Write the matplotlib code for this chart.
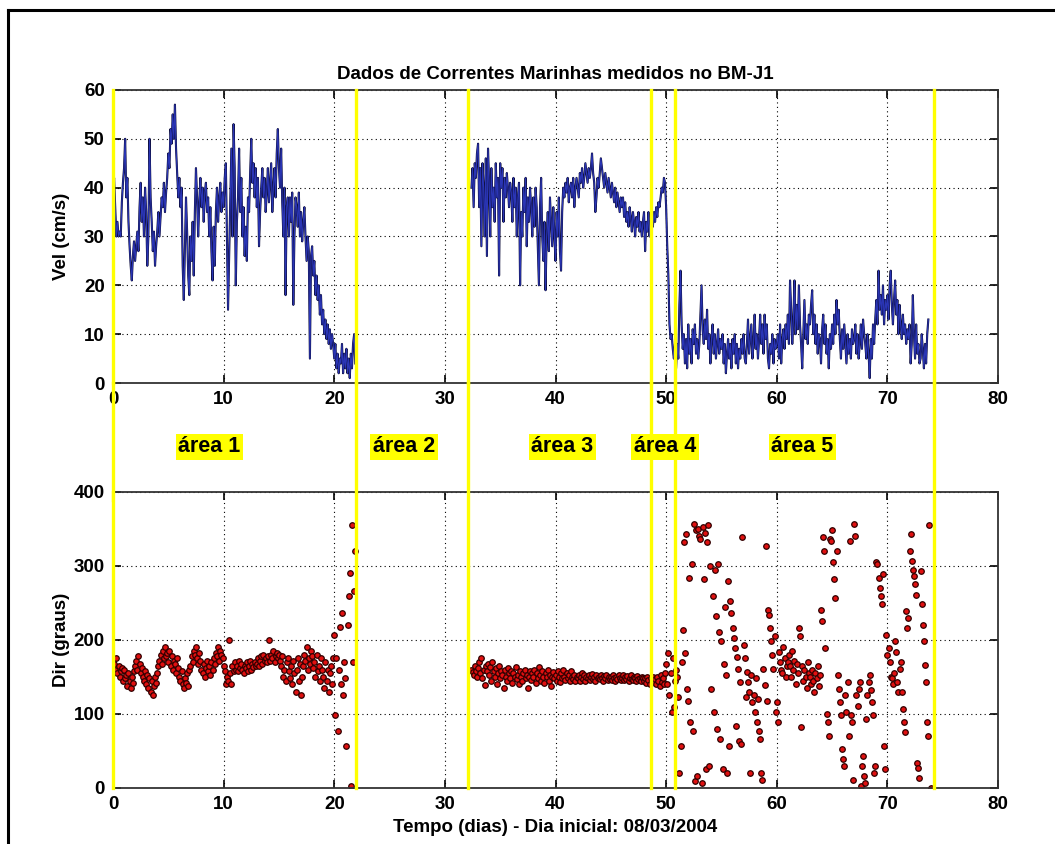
import matplotlib
matplotlib.use('Agg')
import matplotlib.pyplot as plt
import matplotlib.transforms as mtransforms
from matplotlib.lines import Line2D
import numpy as np

# sampling: one value every 0.1 day
step = 0.1

# velocity (cm/s), area 1, from day 0.0
t0_vel1 = 0.0
vel_area1 = [
    38, 42, 36, 30, 33, 30, 31, 30, 37, 41,
    44, 50, 38, 42, 33, 28, 24, 21, 26, 29,
    25, 28, 31, 27, 36, 41, 33, 38, 30, 40,
    35, 24, 30, 50, 38, 33, 27, 31, 24, 28,
    31, 35, 30, 34, 38, 36, 41, 35, 39, 42,
    47, 44, 52, 49, 55, 50, 57, 48, 43, 38,
    42, 36, 40, 24, 17, 28, 38, 31, 22, 18,
    30, 25, 33, 22, 35, 44, 38, 30, 37, 42,
    36, 40, 33, 39, 41, 35, 38, 30, 36, 27,
    21, 32, 24, 35, 40, 33, 38, 41, 35, 39,
    36, 42, 45, 30, 15, 26, 38, 48, 30, 53,
    44, 20, 33, 38, 48, 35, 42, 30, 36, 26,
    32, 25, 38, 35, 43, 50, 41, 45, 38, 44,
    36, 42, 28, 35, 40, 44, 38, 42, 35, 39,
    44, 37, 41, 45, 35, 40, 44, 38, 47, 52,
    44, 40, 48, 37, 30, 40, 18, 36, 38, 30,
    38, 33, 39, 16, 30, 38, 36, 32, 39, 30,
    35, 29, 33, 36, 30, 25, 30, 27, 5, 26,
    28, 22, 25, 18, 22, 17, 20, 14, 18, 12,
    15, 10, 13, 9, 12, 8, 11, 7, 10, 8,
    5, 8, 3, 6, 2, 5, 4, 8, 2, 6,
    3, 7, 2, 5, 1, 6, 3, 8, 10, 4,
]

# velocity (cm/s), areas 3-5, from day 32.4
t0_vel2 = 32.4
vel_area345 = [
    40, 44, 36, 45, 42, 47,
    49, 36, 44, 28, 45, 40, 30, 46, 26, 48,
    41, 30, 44, 36, 40, 33, 45, 38, 42, 22,
    45, 40, 44, 33, 42, 38, 43, 40, 36, 41,
    39, 33, 42, 36, 40, 30, 38, 41, 20, 35,
    30, 40, 35, 42, 28, 38, 33, 40, 36, 30,
    38, 32, 40, 36, 28, 20, 36, 42, 30, 25,
    33, 19, 30, 35, 27, 38, 33, 28, 36, 30,
    25, 35, 30, 38, 27, 23, 35, 40, 38, 41,
    39, 42, 37, 40, 41, 38, 42, 36, 40, 42,
    40, 38, 43, 41, 44, 40, 42, 45, 43, 41,
    44, 42, 44, 47, 43, 41, 35, 38, 42, 40,
    43, 46, 44, 42, 40, 43, 41, 39, 42, 40,
    38, 41, 39, 37, 40, 36, 39, 37, 35, 38,
    36, 38, 34, 37, 33, 35, 32, 36, 34, 31,
    35, 33, 30, 34, 32, 35, 31, 33, 30, 33,
    35, 27, 33, 31, 35, 30, 33, 34, 32, 35,
    33, 36, 34, 37, 36, 38, 40, 39, 42, 41,
    36, 28, 22, 12, 9, 10, 7, 5, 8, 3,
    8, 5, 16, 23, 12, 7, 10, 4, 9, 3,
    12, 6, 9, 4, 11, 8, 12, 6, 9, 5,
    8, 14, 20, 11, 8, 13, 9, 15, 7, 10,
    4, 9, 12, 6, 10, 5, 8, 11, 6, 9,
    7, 10, 4, 8, 2, 6, 9, 5, 8, 3,
    9, 6, 10, 4, 8, 3, 7, 5, 9, 6,
    10, 5, 4, 8, 13, 6, 9, 12, 5, 8,
    14, 7, 10, 5, 9, 14, 8, 12, 6, 14,
    9, 12, 5, 3, 8, 6, 10, 4, 9, 7,
    8, 10, 5, 12, 4, 9, 11, 7, 12, 9,
    14, 8, 21, 15, 8, 13, 21, 10, 16, 11,
    20, 12, 8, 3, 10, 17, 9, 12, 8, 14,
    12, 16, 19, 10, 14, 8, 12, 6, 10, 9,
    4, 11, 14, 8, 12, 6, 9, 3, 10, 7,
    12, 8, 14, 10, 17, 12, 15, 9, 5, 11,
    7, 12, 8, 4, 10, 6, 9, 5, 11, 8,
    9, 12, 6, 10, 5, 8, 12, 7, 13, 10,
    8, 5, 10, 6, 1, 9, 5, 12, 8, 13,
    17, 12, 23, 15, 18, 14, 20, 12, 17, 15,
    18, 13, 20, 23, 16, 12, 17, 21, 14, 17,
    10, 16, 12, 9, 14, 10, 12, 8, 11, 9,
    12, 4, 8, 18, 10, 5, 12, 6, 8, 4,
    5, 10, 7, 3, 8, 4, 10, 13,
]

# direction (graus), area 1, from day 0.0
t0_dir1 = 0.0
dir_area1 = [
    172, 168, 160, 175, 155, 165, 150, 158, 162, 145,
    160, 148, 152, 138, 155, 145, 135, 150, 142, 158,
    165, 172, 160, 178, 168, 155, 162, 150, 145, 158,
    140, 152, 135, 148, 130, 145, 125, 138, 150, 142,
    155, 165, 172, 180, 168, 185, 175, 190, 178, 182,
    170, 185, 165, 178, 160, 172, 168, 155, 175, 162,
    150, 145, 158, 140, 135, 148, 142, 155, 138, 160,
    165, 178, 170, 185, 180, 190, 175, 168, 182, 172,
    160, 155, 168, 150, 162, 172, 158, 165, 152, 170,
    160, 175, 168, 182, 178, 190, 172, 185, 180, 175,
    165, 158, 140, 150, 145, 200, 155, 140, 165, 158,
    170, 160, 165, 158, 172, 162, 168, 160, 155, 165,
    162, 170, 158, 165, 172, 160, 168, 163, 170, 165,
    168, 175, 165, 172, 178, 168, 180, 172, 175, 170,
    178, 200, 172, 180, 175, 185, 170, 178, 182, 175,
    180, 172, 165, 178, 150, 160, 145, 170, 175, 158,
    148, 165, 140, 172, 155, 130, 160, 175, 145, 168,
    125, 150, 165, 180, 172, 190, 160, 175, 168, 185,
    178, 162, 170, 150, 180, 158, 165, 145, 175, 160,
    150, 135, 170, 145, 160, 130, 155, 165, 140, 175,
    207, 98, 175, 77, 160, 218, 140, 236, 125, 170,
    148, 57, 220, 259, 291, 2, 355, 170, 266, 320,
]

# direction (graus), areas 3-5, from day 32.4
t0_dir2 = 32.4
dir_area345 = [
    160, 157, 152, 165, 158, 150,
    162, 170, 155, 175, 148, 160, 139, 165, 158, 168,
    152, 163, 145, 170, 158, 150, 162, 140, 155, 165,
    148, 158, 152, 135, 160, 150, 145, 162, 155, 148,
    158, 142, 155, 150, 163, 147, 152, 140, 158, 150,
    145, 155, 160, 148, 153, 135, 150, 158, 146, 155,
    150, 160, 142, 155, 148, 163, 152, 145, 158, 150,
    142, 155, 150, 160, 145, 153, 138, 150, 157, 148,
    152, 145, 158, 150, 143, 155, 148, 160, 150, 146,
    155, 148, 152, 145, 158, 150, 147, 153, 145, 150,
    148, 153, 145, 150, 155, 147, 152, 144, 150, 148,
    152, 146, 150, 154, 147, 150, 145, 152, 148, 150,
    147, 152, 149, 145, 151, 148, 153, 146, 150, 147,
    150, 146, 152, 148, 145, 150, 147, 153, 149, 146,
    148, 152, 146, 150, 147, 151, 145, 149, 152, 147,
    146, 150, 148, 144, 151, 147, 149, 145, 150, 148,
    145, 149, 142, 150, 146, 140, 148, 144, 150, 143,
    147, 140, 150, 145, 138, 152, 143, 148, 140, 155,
    168, 140, 182, 125, 155, 102, 175, 110, 145, 160,
    150, 123, 20, 57, 170, 214, 332, 182, 343, 134,
    118, 284, 89, 302, 77, 357, 9, 348, 16, 350,
    340, 336, 7, 352, 282, 345, 25, 332, 355, 30,
    300, 134, 259, 102, 295, 232, 80, 302, 211, 66,
    198, 25, 168, 245, 152, 20, 280, 57, 252, 236,
    216, 202, 189, 84, 177, 161, 64, 143, 59, 339,
    193, 175, 123, 157, 143, 130, 20, 152, 116, 125,
    102, 148, 89, 120, 77, 66, 20, 11, 161, 139,
    327, 118, 241, 234, 216, 198, 180, 161, 205, 102,
    116, 89, 184, 170, 160, 155, 191, 175, 150, 165,
    170, 180, 165, 150, 185, 160, 172, 140, 168, 155,
    216, 205, 82, 165, 145, 160, 150, 135, 170, 155,
    150, 140, 160, 145, 130, 155, 148, 165, 138, 152,
    241, 225, 339, 320, 189, 100, 89, 70, 336, 334,
    348, 305, 282, 257, 320, 152, 134, 116, 98, 52,
    39, 30, 125, 102, 143, 70, 334, 98, 89, 11,
    357, 341, 125, 111, 134, 143, 2, 30, 43, 16,
    7, 93, 125, 143, 152, 132, 116, 98, 20, 30,
    305, 302, 284, 270, 259, 248, 289, 57, 25, 207,
    180, 189, 170, 150, 148, 140, 155, 198, 184, 143,
    130, 161, 170, 130, 107, 89, 75, 239, 216, 230,
    320, 343, 307, 295, 286, 275, 261, 34, 27, 14,
    293, 248, 220, 198, 166, 143, 89, 70, 355, 0,
]

# area boundaries (dias) and labels
area_limits = [0.0, 22.0, 32.1, 48.6, 50.8, 74.2]
area_names = ['área 1', 'área 2', 'área 3', 'área 4', 'área 5']
area_label_x = [8.7, 26.3, 40.6, 49.9, 62.3]


def times(t0, values):
    return t0 + step * np.arange(len(values))


plt.rcParams['font.family'] = ['Liberation Sans', 'DejaVu Sans']
plt.rcParams['font.weight'] = 'bold'
plt.rcParams['axes.labelweight'] = 'bold'

fig = plt.figure(figsize=(10.55, 8.44), dpi=100)
ax1 = fig.add_axes([0.1071, 0.5462, 0.8389, 0.3472])
ax2 = fig.add_axes([0.1071, 0.0664, 0.8389, 0.3507])

# velocity
for t0, v in [(t0_vel1, vel_area1), (t0_vel2, vel_area345)]:
    ax1.plot(times(t0, v), v, color='#0c0c38', lw=1.5)
    ax1.plot(times(t0, v), v, color='#2a35b5', lw=0.8)

# direction
for t0, d in [(t0_dir1, dir_area1), (t0_dir2, dir_area345)]:
    ax2.plot(times(t0, d), d, 'o', ls='none', ms=4.0, mfc='#e01010',
             mec='#300000', mew=0.9)

for ax, ymax, yticks in [(ax1, 60, range(0, 61, 10)), (ax2, 400, range(0, 401, 100))]:
    ax.set_xlim(0, 80)
    ax.set_ylim(0, ymax)
    ax.set_xticks(range(0, 81, 10))
    ax.set_yticks(list(yticks))
    ax.grid(True, color='black', ls=(0, (1, 3)), lw=0.8)
    ax.tick_params(direction='in', top=True, right=True, length=6, width=1.2,
                   labelsize=13.5, pad=6)
    for s in ax.spines.values():
        s.set_linewidth(1.3)
        s.set_color('#333333')
    for x in area_limits:
        ax.axvline(x, color='#ffff00', lw=2.4, zorder=5, clip_on=False)

# extend the yellow lines across the gap between the panels
for x in area_limits:
    ax1.axvline(x, ymin=-0.4, ymax=0, color='#ffff00', lw=2.4, zorder=5,
                clip_on=False)

ax1.set_title('Dados de Correntes Marinhas medidos no BM-J1', fontsize=13.5,
              fontweight='bold', pad=8)
ax1.set_ylabel('Vel (cm/s)', fontsize=13.5)
ax2.set_ylabel('Dir (graus)', fontsize=13.5)
ax2.set_xlabel('Tempo (dias) - Dia inicial: 08/03/2004', fontsize=13.5)
ax1.yaxis.set_label_coords(-0.049, 0.5)
ax2.yaxis.set_label_coords(-0.049, 0.5)
ax2.xaxis.set_label_coords(0.5, -0.105)

trans = mtransforms.blended_transform_factory(ax2.transData, ax2.transAxes)
for name, x in zip(area_names, area_label_x):
    ax2.text(x, 1.152, name, transform=trans, ha='center', va='center',
             fontsize=15.5, fontweight='bold',
             bbox=dict(boxstyle='square,pad=0.12', fc='#ffff00', ec='none'))

# outer frame
fig.add_artist(Line2D([0.0076, 0.0076], [0.0, 0.988], color='black', lw=2.2))
fig.add_artist(Line2D([0.0076, 1.0], [0.988, 0.988], color='black', lw=2.2))

fig.savefig('out.png', dpi=100)
